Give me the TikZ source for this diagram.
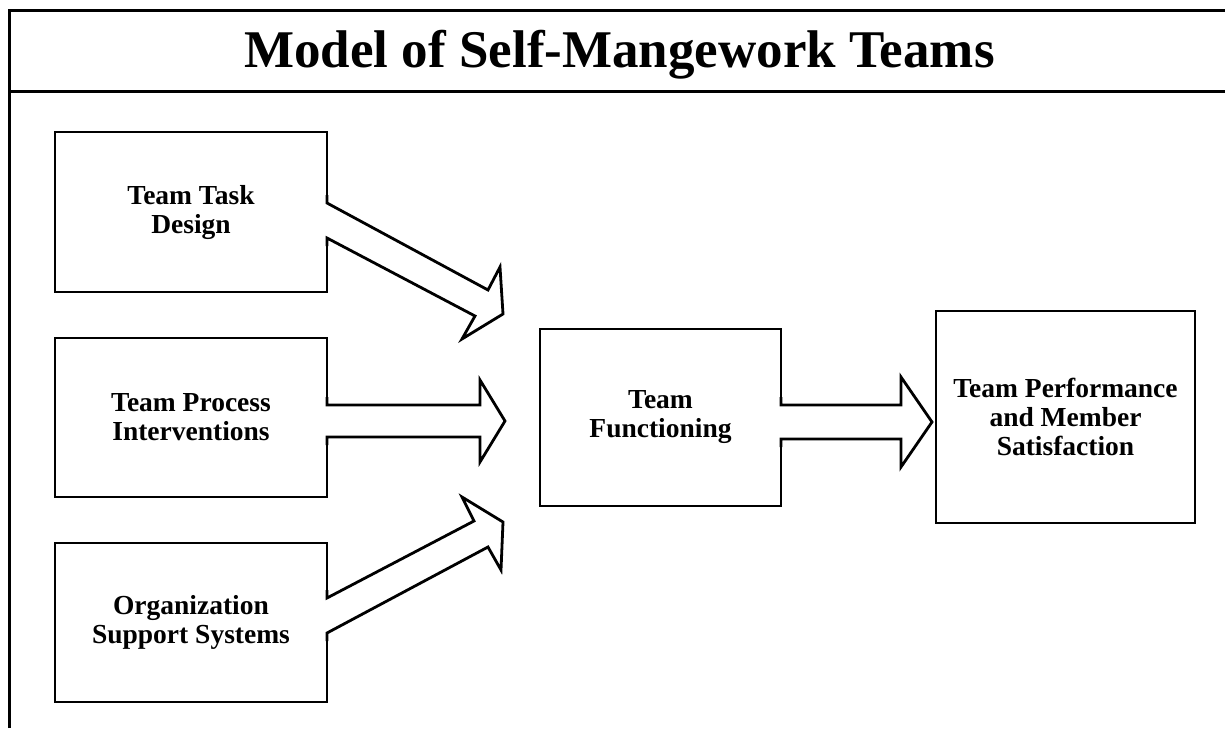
\documentclass[tikz,border=0pt]{standalone}
\usepackage{fontspec}
\setmainfont{Liberation Serif}
\begin{document}
\begin{tikzpicture}[x=1pt,y=-1pt,
  box/.style={draw=black,line width=2.8pt,inner sep=0pt,outer sep=0pt,
    align=center,font=\fontsize{27.5}{29}\selectfont\bfseries,text=black},
  blockarrow/.style={draw=black,line width=2.8pt,line join=miter},
  arrowfill/.style={fill=white,draw=none},
  frameline/.style={draw=black,line width=3pt}]
\useasboundingbox (0,0) rectangle (1225,728);
\fill[white] (0,0) rectangle (1225,728);
% frame
\draw[frameline] (9.5,728) -- (9.5,10.5) -- (1225,10.5);
\draw[frameline] (9.5,91) -- (1225,91);
\node[anchor=base,font=\fontsize{53}{60}\selectfont\bfseries,inner sep=0pt] (title) at (619.5,67) {Model of Self-Mangework Teams};
% boxes
\node[box,minimum width=272pt,minimum height=160pt] (task) at (191,212) {Team Task\\Design};
\node[box,minimum width=272pt,minimum height=159pt] (proc) at (191,417.5) {Team Process\\Interventions};
\node[box,minimum width=272pt,minimum height=159pt] (org) at (191,622.5) {Organization\\Support Systems};
\node[box,minimum width=241pt,minimum height=177pt] (func) at (660.5,417.5) {Team\\Functioning};
\node[box,minimum width=259pt,minimum height=212pt] (perf) at (1065.5,417) {Team Performance\\and Member\\Satisfaction};
% top arrow
\fill[arrowfill] ([xshift=-2pt]task.east |- 0,203) -- (task.east |- 0,203) -- (488,290) -- (500,267) -- (503,314) -- (462,339) -- (475,316) -- (task.east |- 0,238) -- ([xshift=-2pt]task.east |- 0,238) -- cycle;
\draw[blockarrow] (task.east |- 0,195) -- (task.east |- 0,203) -- (488,290) -- (500,267) -- (503,314) -- (462,339) -- (475,316) -- (task.east |- 0,238) -- (task.east |- 0,246);
% middle arrow
\fill[arrowfill] ([xshift=-2pt]proc.east |- 0,405) -- (480,405) -- (480,380) -- ([xshift=-35pt]func.west |- 0,421) -- (480,462) -- (480,437) -- ([xshift=-2pt]proc.east |- 0,437) -- cycle;
\draw[blockarrow] (proc.east |- 0,397) -- (proc.east |- 0,405) -- (480,405) -- (480,380) -- ([xshift=-35pt]func.west |- 0,421) -- (480,462) -- (480,437) -- (proc.east |- 0,437) -- (proc.east |- 0,445);
% bottom arrow
\fill[arrowfill] ([xshift=-2pt]org.east |- 0,598) -- (org.east |- 0,598) -- (474,521) -- (462,497) -- (503,522) -- (501,570) -- (488,547) -- (org.east |- 0,633) -- ([xshift=-2pt]org.east |- 0,633) -- cycle;
\draw[blockarrow] (org.east |- 0,590) -- (org.east |- 0,598) -- (474,521) -- (462,497) -- (503,522) -- (501,570) -- (488,547) -- (org.east |- 0,633) -- (org.east |- 0,641);
% right arrow
\fill[arrowfill] ([xshift=-2pt]func.east |- 0,405) -- (901,405) -- (901,377) -- ([xshift=-4pt]perf.west |- 0,422) -- (901,467) -- (901,439) -- ([xshift=-2pt]func.east |- 0,439) -- cycle;
\draw[blockarrow] (func.east |- 0,397) -- (func.east |- 0,405) -- (901,405) -- (901,377) -- ([xshift=-4pt]perf.west |- 0,422) -- (901,467) -- (901,439) -- (func.east |- 0,439) -- (func.east |- 0,447);
\end{tikzpicture}
\end{document}
